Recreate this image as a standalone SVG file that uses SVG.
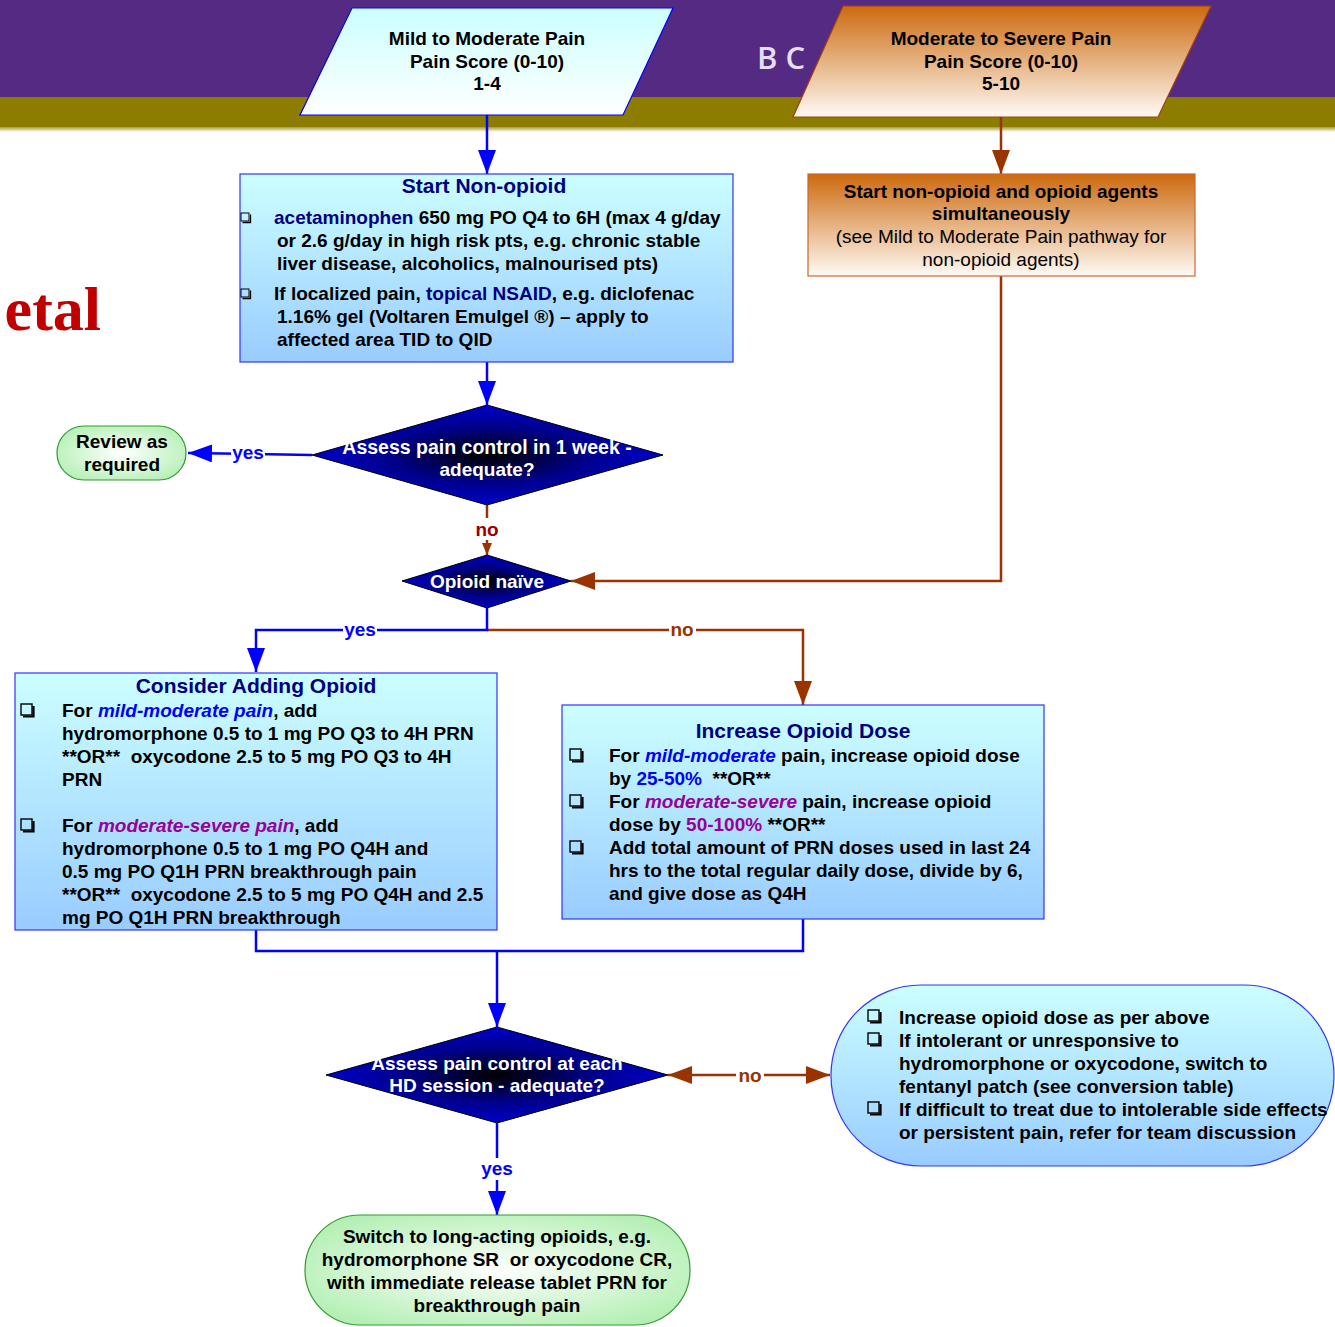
<svg xmlns="http://www.w3.org/2000/svg" width="1335" height="1327" viewBox="0 0 1335 1327">
<defs>
<style>
.t{font-family:"Liberation Sans",Arial,sans-serif;font-weight:bold;font-size:19px;fill:#000;white-space:pre}
.c{text-anchor:middle}
.w{fill:#fff}
.nv{fill:#000080}
.reg{font-weight:normal}
.bl{fill:#0000ff}
.pu{fill:#990099}
.it{font-style:italic}
.ttl{font-size:21px;fill:#000080}
.cb{fill:none;stroke:#000;stroke-width:1.4}
.cbs{fill:none;stroke:#000;stroke-width:2.2}
.blue{fill:none;stroke:#0000ff;stroke-width:2.5}
.brown{fill:none;stroke:#993300;stroke-width:2.5}
</style>
<linearGradient id="gBox" x1="0" y1="0" x2="0" y2="1"><stop offset="0" stop-color="#ccffff"/><stop offset="1" stop-color="#99ccff"/></linearGradient>
<linearGradient id="gMild" x1="0" y1="0" x2="0" y2="1"><stop offset="0" stop-color="#ccffff"/><stop offset="1" stop-color="#ffffff"/></linearGradient>
<linearGradient id="gOr" x1="0" y1="0" x2="0" y2="1"><stop offset="0" stop-color="#cc6a0e"/><stop offset="1" stop-color="#fffaf5"/></linearGradient>
<radialGradient id="gDia" cx="0.5" cy="0.5" r="0.5"><stop offset="0" stop-color="#000000"/><stop offset="0.55" stop-color="#000088"/><stop offset="1" stop-color="#0000cc"/></radialGradient>
<radialGradient id="gGreen" cx="0.5" cy="0.5" r="0.6"><stop offset="0" stop-color="#ffffff"/><stop offset="1" stop-color="#b3efb3"/></radialGradient>
<linearGradient id="gFade" x1="0" y1="0" x2="0" y2="1"><stop offset="0" stop-color="#a89a30"/><stop offset="1" stop-color="#ffffff"/></linearGradient>
<marker id="aB" viewBox="0 0 24 18" refX="24" refY="9" markerWidth="24" markerHeight="18" markerUnits="userSpaceOnUse" orient="auto-start-reverse"><path d="M0,0 L24,9 L0,18 Z" fill="#0000ff"/></marker>
<marker id="aR" viewBox="0 0 24 18" refX="24" refY="9" markerWidth="24" markerHeight="18" markerUnits="userSpaceOnUse" orient="auto-start-reverse"><path d="M0,0 L24,9 L0,18 Z" fill="#993300"/></marker>
<marker id="aRs" viewBox="0 0 12 10" refX="12" refY="5" markerWidth="12" markerHeight="10" markerUnits="userSpaceOnUse" orient="auto"><path d="M0,0 L12,5 L0,10 Z" fill="#993300"/></marker>
<g id="cbx"><path class="cbs" d="M2,12.5 H12.5 V2"/><rect class="cb" x="0" y="0" width="11" height="11"/></g>
<g id="cbxs"><path d="M1.5,9.5 H9.5 V1.5" fill="none" stroke="#000" stroke-width="1.3"/><rect x="0" y="0" width="8" height="8" fill="none" stroke="#000" stroke-width="1"/></g>
</defs>

<g id="background">
<rect x="0" y="0" width="1335" height="1327" fill="#ffffff"/>
<rect x="0" y="0" width="1335" height="97" fill="#552a82"/>
<rect x="0" y="97" width="1335" height="30" fill="#8c7c00"/>
<rect x="0" y="127" width="1335" height="5" fill="url(#gFade)"/>
<text x="757" y="69" font-family="'Open Sans','DejaVu Sans',sans-serif" font-weight="600" font-size="31" fill="#e4def0">B C</text>
<text x="101" y="330" text-anchor="end" font-family="'Liberation Serif','Times New Roman',serif" font-weight="bold" font-size="62" fill="#c00000">etal</text>
</g>

<g id="connectors">
<path class="blue" d="M487,115 V174" marker-end="url(#aB)"/>
<path class="blue" d="M487,362 V405" marker-end="url(#aB)"/>
<path class="blue" d="M312,455 L188,453" marker-end="url(#aB)"/>
<path class="brown" d="M487,505 V555" marker-end="url(#aRs)"/>
<path class="brown" d="M1001,117 V174" marker-end="url(#aR)"/>
<path class="brown" d="M1001,276 V581 H571" marker-end="url(#aR)"/>
<path class="brown" d="M487,630 H803 V705" marker-end="url(#aR)"/>
<path class="blue" d="M487,608 V630 H256 V672" marker-end="url(#aB)"/>
<path class="blue" d="M256,930 V951 H803 V919"/>
<path class="blue" d="M497,951 V1027" marker-end="url(#aB)"/>
<path class="brown" d="M668,1075 H830" marker-start="url(#aR)" marker-end="url(#aR)"/>
<path class="blue" d="M497,1123 V1215" marker-end="url(#aB)"/>
<rect x="231" y="443" width="34" height="20" fill="#fff"/>
<text class="t c bl" x="248" y="459">yes</text>
<rect x="472" y="518" width="30" height="22" fill="#fff"/>
<text class="t c" x="487" y="536" style="fill:#990000">no</text>
<rect x="343" y="620" width="34" height="18" fill="#fff"/>
<text class="t c bl" x="360" y="636">yes</text>
<rect x="669" y="620" width="27" height="18" fill="#fff"/>
<text class="t c" x="682" y="636" style="fill:#993300">no</text>
<rect x="736" y="1066" width="28" height="18" fill="#fff"/>
<text class="t c" x="750" y="1082" style="fill:#993300">no</text>
<rect x="479" y="1158" width="36" height="22" fill="#fff"/>
<text class="t c bl" x="497" y="1175">yes</text>
</g>

<g id="mild">
<path d="M352,8 H673 L623,115 H300 Z" fill="url(#gMild)" stroke="#0000ff" stroke-width="1.2"/>
<text class="t c" x="487" y="45">Mild to Moderate Pain</text>
<text class="t c" x="487" y="68">Pain Score (0-10)</text>
<text class="t c" x="487" y="90">1-4</text>
</g>

<g id="moderate">
<path d="M843,6 H1211 L1158,117 H793 Z" fill="url(#gOr)" stroke="#a0400f" stroke-width="1.2"/>
<text class="t c" x="1001" y="45">Moderate to Severe Pain</text>
<text class="t c" x="1001" y="68">Pain Score (0-10)</text>
<text class="t c" x="1001" y="90">5-10</text>
</g>

<g id="start-nonopioid">
<rect x="240" y="174" width="493" height="188" fill="url(#gBox)" stroke="#3333ff" stroke-width="1.2"/>
<text class="t c ttl" x="484" y="193">Start Non-opioid</text>
<use href="#cbxs" x="241" y="213"/>
<use href="#cbxs" x="241" y="289"/>
<text class="t" x="274" y="224"><tspan class="nv">acetaminophen</tspan> 650 mg PO Q4 to 6H (max 4 g/day</text>
<text class="t" x="277" y="247">or 2.6 g/day in high risk pts, e.g. chronic stable</text>
<text class="t" x="277" y="270">liver disease, alcoholics, malnourised pts)</text>
<text class="t" x="274" y="300">If localized pain, <tspan class="nv">topical NSAID</tspan>, e.g. diclofenac</text>
<text class="t" x="277" y="323">1.16% gel (Voltaren Emulgel ®) – apply to</text>
<text class="t" x="277" y="346">affected area TID to QID</text>
</g>

<g id="start-both">
<rect x="808" y="174" width="387" height="102" fill="url(#gOr)" stroke="#cc6633" stroke-width="1.2"/>
<text class="t c" x="1001" y="198">Start non-opioid and opioid agents</text>
<text class="t c" x="1001" y="220">simultaneously</text>
<text class="t c reg" x="1001" y="243">(see Mild to Moderate Pain pathway for</text>
<text class="t c reg" x="1001" y="266">non-opioid agents)</text>
</g>

<g id="assess-week">
<path d="M487,405 L663,455 L487,505 L312,455 Z" fill="url(#gDia)" stroke="#000" stroke-width="1"/>
<text class="t c w" x="487" y="454" style="font-size:19.5px">Assess pain control in 1 week -</text>
<text class="t c w" x="487" y="476">adequate?</text>
</g>

<g id="review">
<rect x="57" y="426" width="129" height="54" rx="27" fill="url(#gGreen)" stroke="#339933" stroke-width="1.2"/>
<text class="t c" x="122" y="448">Review as</text>
<text class="t c" x="122" y="471">required</text>
</g>

<g id="opioid-naive">
<path d="M487,555 L571,581 L487,608 L402,581 Z" fill="url(#gDia)" stroke="#000" stroke-width="1"/>
<text class="t c w" x="487" y="588">Opioid naïve</text>
</g>

<g id="consider">
<rect x="15" y="673" width="482" height="257" fill="url(#gBox)" stroke="#3333ff" stroke-width="1.2"/>
<text class="t c ttl" x="256" y="693">Consider Adding Opioid</text>
<use href="#cbx" x="21" y="704"/>
<use href="#cbx" x="21" y="819"/>
<text class="t" x="62" y="717">For <tspan class="bl it">mild-moderate pain</tspan>, add</text>
<text class="t" x="62" y="740">hydromorphone 0.5 to 1 mg PO Q3 to 4H PRN</text>
<text class="t" x="62" y="763">**OR**  oxycodone 2.5 to 5 mg PO Q3 to 4H</text>
<text class="t" x="62" y="786">PRN</text>
<text class="t" x="62" y="832">For <tspan class="pu it">moderate-severe pain</tspan>, add</text>
<text class="t" x="62" y="855">hydromorphone 0.5 to 1 mg PO Q4H and</text>
<text class="t" x="62" y="878">0.5 mg PO Q1H PRN breakthrough pain</text>
<text class="t" x="62" y="901">**OR**  oxycodone 2.5 to 5 mg PO Q4H and 2.5</text>
<text class="t" x="62" y="924">mg PO Q1H PRN breakthrough</text>
</g>

<g id="increase">
<rect x="562" y="705" width="482" height="214" fill="url(#gBox)" stroke="#3333ff" stroke-width="1.2"/>
<text class="t c ttl" x="803" y="738">Increase Opioid Dose</text>
<use href="#cbx" x="570" y="749"/>
<use href="#cbx" x="570" y="795"/>
<use href="#cbx" x="570" y="841"/>
<text class="t" x="609" y="762">For <tspan class="bl it">mild-moderate</tspan> pain, increase opioid dose</text>
<text class="t" x="609" y="785">by <tspan class="bl">25-50%</tspan>  **OR**</text>
<text class="t" x="609" y="808">For <tspan class="pu it">moderate-severe</tspan> pain, increase opioid</text>
<text class="t" x="609" y="831">dose by <tspan class="pu">50-100%</tspan> **OR**</text>
<text class="t" x="609" y="854">Add total amount of PRN doses used in last 24</text>
<text class="t" x="609" y="877">hrs to the total regular daily dose, divide by 6,</text>
<text class="t" x="609" y="900">and give dose as Q4H</text>
</g>

<g id="assess-hd">
<path d="M497,1027 L668,1075 L497,1123 L326,1075 Z" fill="url(#gDia)" stroke="#000" stroke-width="1"/>
<text class="t c w" x="497" y="1070">Assess pain control at each</text>
<text class="t c w" x="497" y="1092">HD session - adequate?</text>
</g>

<g id="escalate">
<rect x="831" y="985" width="503" height="181" rx="90" fill="url(#gBox)" stroke="#3333ff" stroke-width="1.2"/>
<use href="#cbx" x="868" y="1010"/>
<use href="#cbx" x="868" y="1033"/>
<use href="#cbx" x="868" y="1102"/>
<text class="t" x="899" y="1024">Increase opioid dose as per above</text>
<text class="t" x="899" y="1047">If intolerant or unresponsive to</text>
<text class="t" x="899" y="1070">hydromorphone or oxycodone, switch to</text>
<text class="t" x="899" y="1093">fentanyl patch (see conversion table)</text>
<text class="t" x="899" y="1116">If difficult to treat due to intolerable side effects</text>
<text class="t" x="899" y="1139">or persistent pain, refer for team discussion</text>
</g>

<g id="switch">
<rect x="305" y="1215" width="385" height="110" rx="55" fill="url(#gGreen)" stroke="#339933" stroke-width="1.2"/>
<text class="t c" x="497" y="1243">Switch to long-acting opioids, e.g.</text>
<text class="t c" x="497" y="1266">hydromorphone SR  or oxycodone CR,</text>
<text class="t c" x="497" y="1289">with immediate release tablet PRN for</text>
<text class="t c" x="497" y="1312">breakthrough pain</text>
</g>
</svg>
